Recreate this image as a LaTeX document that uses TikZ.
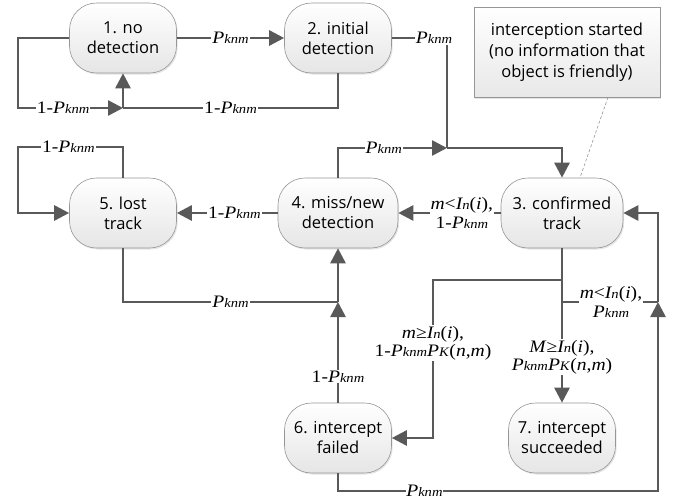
\documentclass[tikz,border=0pt]{standalone}
\usepackage{fontspec}
\setmainfont{Liberation Serif}
\newfontfamily\lblfont[FakeStretch=1.12]{Liberation Serif}
\newfontfamily\nodefont{Open Sans}
\usetikzlibrary{arrows.meta,shadows}
\definecolor{lc}{RGB}{89,89,89}
\definecolor{bc}{RGB}{150,150,150}
\newcommand\sm[1]{{\fontsize{13}{13}\selectfont #1}}
\newcommand\Pk{\textit{P\sm{knm}}}
\newcommand\In{\textit{I\sm{n}}}
\begin{document}
\begin{tikzpicture}[x=1pt,y=-1pt,
  state/.style={draw=bc, line width=0.6pt, rounded corners=27pt,
    top color=white, bottom color=gray!20,
    drop shadow={shadow xshift=1.2pt, shadow yshift=-1.5pt, fill=gray!40, opacity=0.5},
    minimum width=107pt, minimum height=70pt, inner sep=0pt, align=center,
    font=\nodefont\fontsize{16.5}{20}\selectfont},
  notebox/.style={draw=bc, line width=0.6pt, rectangle,
    top color=white, bottom color=gray!18,
    drop shadow={shadow xshift=1.2pt, shadow yshift=-1.5pt, fill=gray!40, opacity=0.5},
    minimum width=186pt, minimum height=90pt, inner sep=0pt, align=center,
    font=\nodefont\fontsize{16.5}{21}\selectfont},
  ed/.style={draw=lc, line width=2.6pt},
  ar/.style={ed, -{Triangle[length=15pt,width=15pt]}},
  lbl/.style={fill=white, inner sep=1pt, align=center,
    font=\lblfont\fontsize{17.5}{18.5}\selectfont}]
\useasboundingbox (0,0) rectangle (681,501);

% states
\node[state] (n1) at (123,38) {1. no\\detection};
\node[state] (n2) at (338,38) {2. initial\\detection};
\node[state, minimum width=122pt] (n3) at (562,213) {3. confirmed\\track};
\node[state, minimum width=120pt] (n4) at (338,213) {4. miss/new\\detection};
\node[state] (n5) at (123,213) {5. lost\\track};
\node[state] (n6) at (338,438) {6. intercept\\failed};
\node[state] (n7) at (562,438) {7. intercept\\succeeded};

% note
\node[notebox] (cb) at (567,52) {interception started\\(no information that\\object is friendly)};

% junctions
\coordinate (j1) at (123,108);
\coordinate (c2) at (447,38);
\coordinate (j2) at (447,148);
\coordinate (j3) at (338,302);
\coordinate (j4) at (562,280);
\coordinate (j5) at (562,302);
\coordinate (j6) at (658,302);

% 1 -> 2
\draw[ar] (n1) -- node[lbl, pos=0.5] {\Pk} (n2);
% 1 -> 1
\draw[ar] (n1.west) -- (18,38) -- (18,108) -- node[lbl, pos=0.43] {1-\Pk} (j1);
% 2 -> 1
\draw[ed] (n2.south) -- (338,108) -- node[lbl, pos=0.5] {1-\Pk} (j1);
\draw[ar] (j1) -- (n1.south);
% 2 -> 3
\draw[ed] (n2.east) -- (c2) -- (j2);
\node[lbl] at (434,38) {\Pk};
\draw[ar] (j2) -- (562,148) -- (n3.north);
% 4 -> 3
\draw[ar] (n4.north) -- (338,148) -- node[lbl, pos=0.42] {\Pk} (j2);
% 3 -> 4
\draw[ar] (n3.west) -- node[lbl, pos=0.38] {\textit{m}<\In(\textit{i}),\\1-\Pk} (n4.east);
% 4 -> 5
\draw[ar] (n4.west) -- node[lbl, pos=0.43] {1-\Pk} (n5.east);
% 5 -> 5
\draw[ar] (n5.north) -- (123,147) -- node[lbl, pos=0.52] {1-\Pk} (18,147) -- (18,213) -- (n5.west);
% 5 -> 4
\draw[ed] (n5.south) -- (123,302) -- node[lbl, pos=0.5] {\Pk} (j3);
\draw[ar] (j3) -- (n4.south);
% 6 -> 4
\draw[ar] (n6.north) -- node[lbl, pos=0.26] {1-\Pk} (j3);
% 3 -> 6
\draw[ar] (n3.south) -- (j4) -- (433,280) -- node[lbl, pos=0.40] {\textit{m}≥\In(\textit{i}),\\1-\Pk\textit{P\sm{K}}(\textit{n},\textit{m})} (433,438) -- (n6.east);
% 3 -> 7
\draw[ar] (j4) -- node[lbl, pos=0.63] {\textit{M}≥\In(\textit{i}),\\\Pk\textit{P\sm{K}}(\textit{n},\textit{m})} (n7.north);
% 3 -> 3
\draw[ed] (j5) -- node[lbl, pos=0.51] {\textit{m}<\In(\textit{i}),\\\Pk} (j6);
% 6 -> 3
\draw[ar] (n6.south) -- (338,491) -- node[lbl, pos=0.27, inner sep=0pt] {\Pk} (658,491) -- (j6);
\draw[ar] (j6) -- (658,213) -- (n3.east);

% note connector
\draw[bc, line width=0.6pt, dash pattern=on 3pt off 2pt] ([xshift=41pt]cb.south) -- ([xshift=18pt]n3.north);
\end{tikzpicture}
\end{document}
